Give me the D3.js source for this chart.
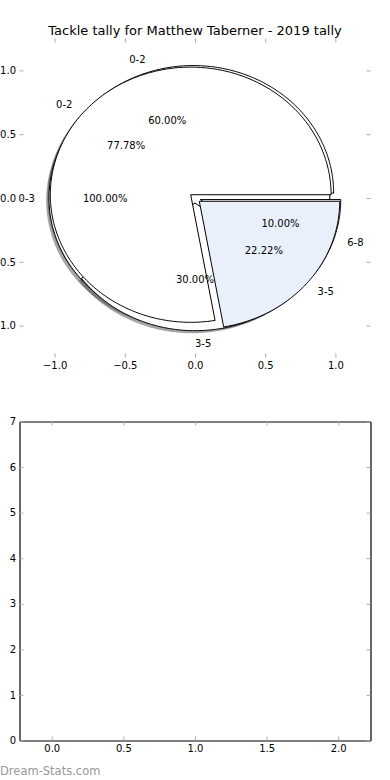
<!DOCTYPE html>
<html>
<head>
<meta charset="utf-8">
<script src="https://cdn.jsdelivr.net/npm/d3@7"></script>
<style>
body{margin:0;background:#fff}
svg{display:block}
text{font-family:"DejaVu Sans",sans-serif}
</style>
</head>
<body>
<div id="chart"></div>
<script>

// three tallies, drawn one over the other on the same axes
var pie1Labels = ["0-3"], pie1Values = [1];
var pie2Labels = ["0-2","3-5"], pie2Values = [7,2];
var pie3Labels = ["0-2","3-5","6-8"], pie3Values = [6,3,1];

var pieTicks = [-1,-0.5,0,0.5,1];
var barXTicks = [0,0.5,1,1.5,2];
var barYTicks = [0,1,2,3,4,5,6,7];

var title = "Tackle tally for Matthew Taberner - 2019 tally";
var credit = "Dream-Stats.com";

var W = 390, H = 780;
var explode = 0.04;
var shadowOff = 0.02;
var pie1Colors = ["#ffffff"],
	pie2Colors = ["#ffffff","#e9effb"],
	pie3Colors = ["#ffffff","#ffffff","#ffffff"];

var svg = d3.select("#chart").append("svg").attr("width",W).attr("height",H);

var pieBox = {l:19.5, r:370.5, t:38.5, b:357.5};
var barBox = {l:19.5, r:370.5, t:421.5, b:740.5};

var X = d3.scaleLinear().domain([-1.25,1.25]).range([pieBox.l,pieBox.r]),
	Y = d3.scaleLinear().domain([-1.25,1.25]).range([pieBox.b,pieBox.t]);

var curve = d3.line().x(function(d){return X(d[0])}).y(function(d){return Y(d[1])});

function wedges(values, labels, colors){
	var total = d3.sum(values);
	var arcs = d3.pie().sort(null)(values);
	return arcs.map(function(a,i){
		var t0 = a.startAngle*180/Math.PI, t1 = a.endAngle*180/Math.PI;
		var tm = (a.startAngle+a.endAngle)/2;
		return {
			t0:t0, t1:t1, tm:tm,
			cx: explode*Math.cos(tm), cy: explode*Math.sin(tm),
			label: labels[i],
			pct: (a.value/total*100).toFixed(2)+"%",
			color: colors[i]
		}
	})
}

function wedgePts(w, ox, oy){
	var pts = [];
	var full = (w.t1 - w.t0) >= 359.999;
	if(!full) pts.push([w.cx+ox, w.cy+oy]);
	var n = Math.max(2, Math.ceil(w.t1 - w.t0));
	for(var k=0;k<=n;k++){
		var a = (w.t0 + (w.t1-w.t0)*k/n)*Math.PI/180;
		pts.push([w.cx+ox+Math.cos(a), w.cy+oy+Math.sin(a)]);
	}
	return curve(pts)+"Z";
}

var p1 = wedges(pie1Values,pie1Labels,pie1Colors),
	p2 = wedges(pie2Values,pie2Labels,pie2Colors),
	p3 = wedges(pie3Values,pie3Labels,pie3Colors);

// drawing order as in the original figure
var all = p1.concat(p3).concat(p2);

var g = svg.append("g");

g.selectAll(".shadow").data(all).enter().append("path")
	.attr("class","shadow")
	.attr("d",function(d){return wedgePts(d,-shadowOff,-shadowOff)})
	.style("fill","rgba(77,77,77,0.5)")
	.style("stroke","none");

g.selectAll(".wedge").data(all).enter().append("path")
	.attr("class","wedge")
	.attr("d",function(d){return wedgePts(d,0,0)})
	.style("fill",function(d){return d.color})
	.style("stroke","#000")
	.style("stroke-width",1)
	.style("stroke-linejoin","miter");

g.selectAll(".lab").data(all).enter().append("text")
	.attr("class","lab")
	.attr("x",function(d){return X(d.cx+1.1*Math.cos(d.tm))})
	.attr("y",function(d){return Y(d.cy+1.1*Math.sin(d.tm))})
	.attr("dy","0.35em")
	.attr("text-anchor",function(d){return d.cx+1.1*Math.cos(d.tm) > -1e-9 ? "start" : "end"})
	.style("font-size","10px")
	.text(function(d){return d.label});

g.selectAll(".pct").data(all).enter().append("text")
	.attr("class","pct")
	.attr("x",function(d){return X(d.cx+0.6*Math.cos(d.tm))})
	.attr("y",function(d){return Y(d.cy+0.6*Math.sin(d.tm))})
	.attr("dy","0.35em")
	.attr("text-anchor","middle")
	.style("font-size","10px")
	.text(function(d){return d.pct});

function fmt(d){ return (d<0?"\u2212":"") + Math.abs(d).toFixed(1); }

function styleAxis(sel, domain){
	sel.selectAll("text").style("font-size","10px").style("font-family","DejaVu Sans").attr("fill","#000");
	sel.selectAll(".tick line").attr("stroke","#aaa");
	if(!domain) sel.select(".domain").remove();
	else sel.select(".domain").attr("stroke","#000").attr("stroke-width",1.2);
}

// top axes: no frame, ticks on all four sides
svg.append("g").attr("transform","translate(0,"+pieBox.b+")")
	.call(d3.axisBottom(X).tickValues(pieTicks).tickFormat(fmt).tickSizeInner(-4).tickSizeOuter(0).tickPadding(4))
	.call(styleAxis,false);
svg.append("g").attr("transform","translate(0,"+pieBox.t+")")
	.call(d3.axisTop(X).tickValues(pieTicks).tickFormat("").tickSizeInner(-4).tickSizeOuter(0))
	.call(styleAxis,false);
svg.append("g").attr("transform","translate("+pieBox.l+",0)")
	.call(d3.axisLeft(Y).tickValues(pieTicks).tickFormat(fmt).tickSizeInner(-4).tickSizeOuter(0).tickPadding(3.5))
	.call(styleAxis,false);
svg.append("g").attr("transform","translate("+pieBox.r+",0)")
	.call(d3.axisRight(Y).tickValues(pieTicks).tickFormat("").tickSizeInner(-4).tickSizeOuter(0))
	.call(styleAxis,false);

svg.append("text")
	.attr("x",(pieBox.l+pieBox.r)/2).attr("y",30).attr("dy","0.35em")
	.attr("text-anchor","middle")
	.style("font-size","13px")
	.text(title);

// bottom axes: empty, full frame
var X2 = d3.scaleLinear().domain([-0.225,2.225]).range([barBox.l,barBox.r]),
	Y2 = d3.scaleLinear().domain([0,7]).range([barBox.b,barBox.t]);

svg.append("g").attr("transform","translate(0,"+barBox.b+")")
	.call(d3.axisBottom(X2).tickValues(barXTicks).tickFormat(function(d){return d.toFixed(1)}).tickSizeInner(-4).tickSizeOuter(0).tickPadding(4))
	.call(styleAxis,true);
svg.append("g").attr("transform","translate(0,"+barBox.t+")")
	.call(d3.axisTop(X2).tickValues(barXTicks).tickFormat("").tickSizeInner(-4).tickSizeOuter(0))
	.call(styleAxis,true);
svg.append("g").attr("transform","translate("+barBox.l+",0)")
	.call(d3.axisLeft(Y2).tickValues(barYTicks).tickFormat(d3.format("d")).tickSizeInner(-4).tickSizeOuter(0).tickPadding(3.5))
	.call(styleAxis,true);
svg.append("g").attr("transform","translate("+barBox.r+",0)")
	.call(d3.axisRight(Y2).tickValues(barYTicks).tickFormat("").tickSizeInner(-4).tickSizeOuter(0))
	.call(styleAxis,true);

svg.append("text")
	.attr("x",0).attr("y",775)
	.style("font-size","11.5px")
	.style("fill","#999")
	.text(credit);

</script>
</body>
</html>
